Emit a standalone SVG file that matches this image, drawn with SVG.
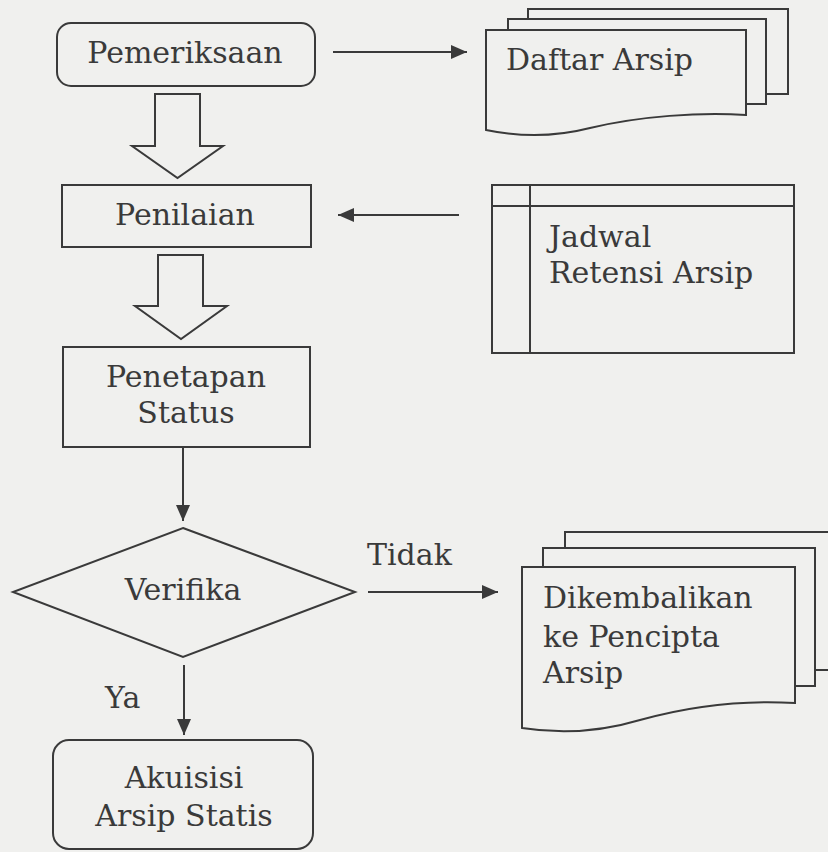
<svg xmlns="http://www.w3.org/2000/svg" width="828" height="852" viewBox="0 0 828 852">
  <defs>
    <style>
      .shape { fill: #f0f0ee; stroke: #3a3a3a; stroke-width: 2; }
      .line { fill: none; stroke: #3a3a3a; stroke-width: 2; }
      .conn { fill: none; stroke: #3a3a3a; stroke-width: 2; marker-end: url(#ah); }
      text { font-family: "DejaVu Serif", "Liberation Serif", serif; font-size: 30px; fill: #3a3a3a; }
      .c { text-anchor: middle; }
    </style>
    <marker id="ah" viewBox="0 0 16 14" refX="16" refY="7" markerWidth="16" markerHeight="14" markerUnits="userSpaceOnUse" orient="auto">
      <path d="M0,0 L16,7 L0,14 Z" fill="#3a3a3a"/>
    </marker>
  </defs>
  <rect x="0" y="0" width="828" height="852" fill="#f0f0ee"/>

  <g id="pemeriksaan">
    <rect class="shape" x="57" y="23" width="258" height="63" rx="14"/>
    <text class="c" x="185" y="63">Pemeriksaan</text>
  </g>

  <g id="daftar-arsip">
    <rect class="shape" x="528" y="9" width="260" height="85"/>
    <rect class="shape" x="508" y="19" width="258" height="85"/>
    <path class="shape" d="M486,30 H746 V115 C700,112 640,116 590,128 C555,137 520,137 486,130 Z"/>
    <text x="506" y="70">Daftar Arsip</text>
  </g>

  <g id="block-arrow-1">
    <polygon class="shape" points="155,94 200,94 200,146 223,146 177.5,178 132,146 155,146"/>
  </g>

  <g id="penilaian">
    <rect class="shape" x="62" y="185" width="249" height="62"/>
    <text class="c" x="185" y="225">Penilaian</text>
  </g>

  <g id="jadwal-retensi">
    <rect class="shape" x="492" y="185" width="302" height="168"/>
    <line class="line" x1="492" y1="206" x2="794" y2="206"/>
    <line class="line" x1="530" y1="185" x2="530" y2="353"/>
    <text x="549" y="247">Jadwal</text>
    <text x="549" y="283">Retensi Arsip</text>
  </g>

  <g id="block-arrow-2">
    <polygon class="shape" points="158,255 203,255 203,306 227,306 181,339 135,306 158,306"/>
  </g>

  <g id="penetapan-status">
    <rect class="shape" x="63" y="347" width="247" height="100"/>
    <text class="c" x="186" y="387">Penetapan</text>
    <text class="c" x="186" y="423">Status</text>
  </g>

  <g id="verifika">
    <polygon class="shape" points="183,528 355,592 183,657 13,592"/>
    <text class="c" x="183" y="600">Verifika</text>
  </g>

  <g id="dikembalikan">
    <rect class="shape" x="565" y="532" width="280" height="138"/>
    <rect class="shape" x="543" y="548" width="272" height="138"/>
    <path class="shape" d="M522,567 H795 V703 C745,700 690,706 640,720 C600,732 560,734 522,728 Z"/>
    <text x="543" y="608">Dikembalikan</text>
    <text x="543" y="647">ke Pencipta</text>
    <text x="543" y="683">Arsip</text>
  </g>

  <g id="akuisisi">
    <rect class="shape" x="53" y="740" width="260" height="109" rx="16"/>
    <text class="c" x="184" y="788">Akuisisi</text>
    <text class="c" x="184" y="826">Arsip Statis</text>
  </g>

  <g id="connectors">
    <line class="conn" x1="333" y1="52" x2="467" y2="52"/>
    <line class="conn" x1="459" y1="215" x2="338" y2="215"/>
    <line class="conn" x1="183" y1="448" x2="183" y2="521"/>
    <line class="conn" x1="368" y1="592" x2="498" y2="592"/>
    <line class="conn" x1="184" y1="665" x2="184" y2="735"/>
    <text x="367" y="565">Tidak</text>
    <text x="105" y="708">Ya</text>
  </g>
</svg>
